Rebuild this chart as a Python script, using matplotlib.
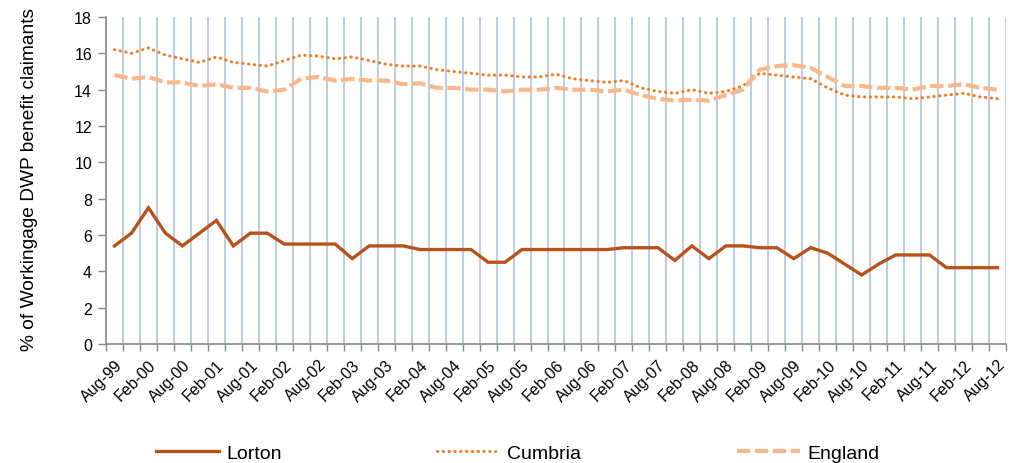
import matplotlib
matplotlib.use("Agg")
import matplotlib.pyplot as plt
import numpy as np

plt.rcParams['font.family'] = ['Liberation Sans', 'DejaVu Sans']

# Quarterly periods Aug-99 .. Aug-12 (53 points); every other one labelled
tick_labels = ["Aug-99", "Feb-00", "Aug-00", "Feb-01", "Aug-01", "Feb-02", "Aug-02",
               "Feb-03", "Aug-03", "Feb-04", "Aug-04", "Feb-05", "Aug-05", "Feb-06",
               "Aug-06", "Feb-07", "Aug-07", "Feb-08", "Aug-08", "Feb-09", "Aug-09",
               "Feb-10", "Aug-10", "Feb-11", "Aug-11", "Feb-12", "Aug-12"]

lorton = [5.4, 6.1, 7.5, 6.1, 5.4, 6.1, 6.8, 5.4, 6.1, 6.1,
          5.5, 5.5, 5.5, 5.5, 4.7, 5.4, 5.4, 5.4, 5.2, 5.2,
          5.2, 5.2, 4.5, 4.5, 5.2, 5.2, 5.2, 5.2, 5.2, 5.2,
          5.3, 5.3, 5.3, 4.6, 5.4, 4.7, 5.4, 5.4, 5.3, 5.3,
          4.7, 5.3, 5.0, 4.4, 3.8, 4.4, 4.9, 4.9, 4.9, 4.2,
          4.2, 4.2, 4.2]

cumbria = [16.2, 16.0, 16.3, 15.9, 15.7, 15.5, 15.8, 15.5, 15.4, 15.3,
           15.6, 15.9, 15.85, 15.7, 15.8, 15.6, 15.4, 15.3, 15.3, 15.1,
           15.0, 14.9, 14.8, 14.8, 14.7, 14.7, 14.85, 14.6, 14.5, 14.4,
           14.5, 14.1, 13.9, 13.8, 14.0, 13.8, 13.9, 14.2, 14.9, 14.8,
           14.7, 14.6, 14.1, 13.7, 13.6, 13.6, 13.6, 13.5, 13.6, 13.7,
           13.8, 13.6, 13.5]

england = [14.8, 14.6, 14.7, 14.4, 14.4, 14.2, 14.3, 14.1, 14.1, 13.9,
           14.0, 14.6, 14.7, 14.5, 14.6, 14.5, 14.5, 14.3, 14.35, 14.1,
           14.1, 14.0, 14.0, 13.9, 14.0, 14.0, 14.1, 14.0, 14.0, 13.9,
           14.0, 13.7, 13.5, 13.4, 13.45, 13.4, 13.7, 14.0, 15.1, 15.3,
           15.35, 15.2, 14.7, 14.2, 14.2, 14.1, 14.1, 14.0, 14.2, 14.2,
           14.3, 14.1, 14.0]

x = np.arange(len(lorton))

fig = plt.figure(figsize=(10.09, 4.64), dpi=100)
ax = fig.add_axes([106/1009, 1-345/464, 900/1009, 327/464])

# vertical gridlines at category boundaries
bounds = np.arange(-0.5, len(x), 1.0)
for b in bounds[1:]:
    ax.axvline(b, color='#B9CDE5', lw=1.4, zorder=0)

l1, = ax.plot(x, lorton, color='#B7521A', lw=2.4, solid_joinstyle='miter', zorder=3)
l2, = ax.plot(x, cumbria, color='#F47B20', lw=2.2, linestyle=(0, (0.1, 1.8)),
              dash_capstyle='round', zorder=3)
l3, = ax.plot(x, england, color='#FAB88A', lw=3.0, linestyle=(0, (3.2, 1.1)), zorder=3)

ax.set_xlim(-0.5, len(x) - 0.5)
ax.set_ylim(0, 18)
ax.set_yticks(np.arange(0, 19, 2))
ax.tick_params(axis='y', labelsize=11.5, length=6, color='#868686', width=1, pad=4)

ax.set_xticks(bounds, minor=True)
ax.set_xticks(x[::2])
ax.set_xticklabels(tick_labels, rotation=45, ha='right', va='top',
                   rotation_mode='anchor', fontsize=11.5)
ax.tick_params(axis='x', which='major', length=0, pad=9)
ax.tick_params(axis='x', which='minor', length=5, color='#868686', width=1)

for s in ['top', 'right']:
    ax.spines[s].set_visible(False)
for s in ['left', 'bottom']:
    ax.spines[s].set_color('#868686')
    ax.spines[s].set_linewidth(1.2)

ax.set_ylabel('% of Workingage DWP benefit claimants', fontsize=13.8)
ax.yaxis.set_label_coords(-0.075, 0.505)

fig.legend([l1, l2, l3], ['Lorton', 'Cumbria', 'England'], loc='center',
           bbox_to_anchor=(0.513, 0.022), ncol=3, frameon=False, fontsize=14,
           handlelength=3.25, columnspacing=8.0, handletextpad=0.36)

fig.savefig('out.png', dpi=100)
